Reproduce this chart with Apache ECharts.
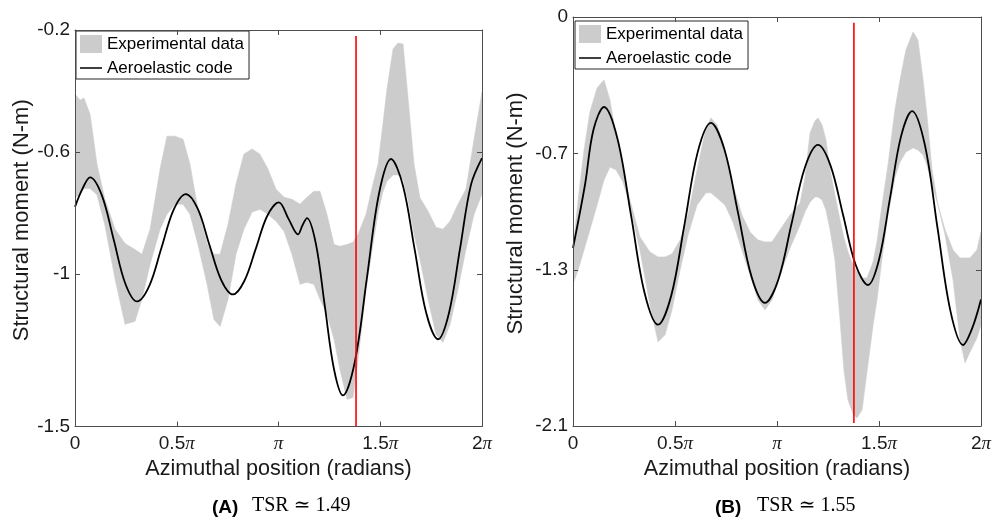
<!DOCTYPE html>
<html><head><meta charset="utf-8">
<script src="https://cdn.jsdelivr.net/npm/echarts@6/dist/echarts.min.js"></script>
<style>html,body{margin:0;padding:0;background:#fff}#c{width:1004px;height:518px}</style>
</head><body><div id="c"></div>
<script>
// ---------- tick values / labels ----------
const xTickValues = [0, 0.5, 1, 1.5, 2];
const xTickLabels = ['0', '0.5π', 'π', '1.5π', '2π'];
const yTicksA = [-1.5, -1, -0.6, -0.2];
const yTicksB = [-2.1, -1.3, -0.7, 0];
const xTitle = 'Azimuthal position (radians)';
const yTitle = 'Structural moment (N-m)';
const legendNames = ['Experimental data', 'Aeroelastic code'];
const panelLetters = ['(A)', '(B)'];
const panelCaptions = ['TSR ≃ 1.49', 'TSR ≃ 1.55'];

// ---------- panel A: experimental band (azimuth in units of π) ----------
const bandAzimuthA = [0, 0.025, 0.044, 0.074, 0.108, 0.147, 0.197, 0.246, 0.295, 0.329,
  0.369, 0.418, 0.452, 0.491, 0.531, 0.565, 0.604, 0.649, 0.683, 0.713,
  0.752, 0.791, 0.83, 0.87, 0.909, 0.948, 0.988, 1.027, 1.066, 1.106,
  1.14, 1.174, 1.204, 1.238, 1.273, 1.302, 1.337, 1.366, 1.391, 1.43,
  1.464, 1.489, 1.513, 1.533, 1.563, 1.587, 1.612, 1.636, 1.666, 1.695,
  1.735, 1.774, 1.808, 1.843, 1.882, 1.921, 1.961, 2.0];
const bandUpperA = [-0.41, -0.43, -0.423, -0.476, -0.64, -0.755, -0.853, -0.90, -0.92, -0.935,
  -0.853, -0.656, -0.548, -0.548, -0.558, -0.64, -0.788, -0.90, -0.935, -0.935,
  -0.837, -0.706, -0.607, -0.59, -0.607, -0.656, -0.722, -0.748, -0.755, -0.771,
  -0.748, -0.729, -0.729, -0.804, -0.903, -0.909, -0.903, -0.896, -0.87, -0.804,
  -0.706, -0.64, -0.509, -0.394, -0.262, -0.243, -0.246, -0.42, -0.64, -0.75,
  -0.794, -0.847, -0.853, -0.827, -0.771, -0.722, -0.558, -0.404];
const bandLowerA = [-0.75, -0.74, -0.72, -0.72, -0.74, -0.84, -1.017, -1.165, -1.155, -1.083,
  -0.968, -0.853, -0.804, -0.771, -0.771, -0.804, -0.903, -1.034, -1.149, -1.172,
  -1.083, -0.935, -0.853, -0.797, -0.788, -0.804, -0.827, -0.86, -0.935, -1.034,
  -1.027, -1.034, -1.083, -1.132, -1.214, -1.313, -1.411, -1.405, -1.28, -1.05,
  -0.903, -0.80, -0.73, -0.696, -0.675, -0.675, -0.69, -0.755, -0.87, -0.952,
  -1.083, -1.198, -1.224, -1.165, -1.05, -0.919, -0.804, -0.738];

// ---------- panel A: aeroelastic code ----------
const codeAzimuthA = [0, 0.037, 0.074, 0.132, 0.19, 0.247, 0.305, 0.365, 0.425, 0.485,
  0.545, 0.603, 0.66, 0.718, 0.776, 0.832, 0.889, 0.945, 1.002, 1.05,
  1.096, 1.118, 1.14, 1.184, 1.228, 1.273, 1.317, 1.376, 1.435, 1.494,
  1.553, 1.611, 1.669, 1.726, 1.784, 1.838, 1.892, 1.946, 2.0];
const codeMomentA = [-0.78, -0.72, -0.683, -0.742, -0.887, -1.031, -1.09, -1.039, -0.914, -0.789,
  -0.738, -0.786, -0.903, -1.019, -1.067, -1.023, -0.916, -0.809, -0.765, -0.82,
  -0.87, -0.84, -0.817, -0.902, -1.107, -1.313, -1.398, -1.285, -1.01, -0.736,
  -0.623, -0.709, -0.919, -1.128, -1.214, -1.127, -0.917, -0.707, -0.62];

// ---------- panel B: experimental band ----------
const bandAzimuthB = [0, 0.025, 0.054, 0.083, 0.118, 0.152, 0.181, 0.211, 0.245, 0.279,
  0.328, 0.377, 0.417, 0.451, 0.485, 0.525, 0.564, 0.608, 0.652, 0.676,
  0.706, 0.745, 0.784, 0.828, 0.868, 0.907, 0.941, 0.975, 1.015, 1.064,
  1.113, 1.137, 1.162, 1.186, 1.201, 1.221, 1.240, 1.260, 1.284, 1.309,
  1.328, 1.348, 1.373, 1.392, 1.417, 1.441, 1.471, 1.490, 1.515, 1.544,
  1.578, 1.603, 1.632, 1.667, 1.691, 1.716, 1.735, 1.760, 1.789, 1.824,
  1.863, 1.897, 1.922, 1.946, 1.980, 2.0];
const bandUpperB = [-1.191, -0.939, -0.683, -0.488, -0.364, -0.323, -0.426, -0.606, -0.785, -0.939,
  -1.129, -1.206, -1.232, -1.232, -1.217, -1.145, -1.016, -0.785, -0.570, -0.518,
  -0.554, -0.683, -0.862, -1.016, -1.104, -1.145, -1.155, -1.155, -1.093, -1.016,
  -0.955, -0.826, -0.595, -0.534, -0.518, -0.554, -0.631, -0.785, -0.914, -1.042,
  -1.134, -1.206, -1.273, -1.309, -1.340, -1.340, -1.258, -1.155, -0.965, -0.760,
  -0.477, -0.323, -0.169, -0.077, -0.118, -0.323, -0.503, -0.785, -0.965, -1.093,
  -1.196, -1.237, -1.237, -1.237, -1.196, -1.104];
const bandLowerB = [-1.371, -1.299, -1.196, -1.093, -0.965, -0.837, -0.770, -0.785, -0.847, -0.965,
  -1.196, -1.478, -1.668, -1.632, -1.504, -1.299, -1.119, -0.965, -0.903, -0.903,
  -0.929, -0.965, -1.052, -1.196, -1.324, -1.453, -1.504, -1.453, -1.324, -1.186,
  -1.068, -1.001, -0.950, -0.924, -0.924, -0.939, -0.991, -1.093, -1.247, -1.555,
  -1.812, -1.966, -2.038, -2.059, -2.017, -1.822, -1.581, -1.453, -1.237, -1.016,
  -0.826, -0.744, -0.693, -0.672, -0.683, -0.708, -0.760, -0.862, -0.965, -1.119,
  -1.350, -1.658, -1.776, -1.720, -1.648, -1.581];

// ---------- panel B: aeroelastic code ----------
const codeAzimuthB = [0, 0.059, 0.1, 0.152, 0.218, 0.285, 0.351, 0.417, 0.482, 0.547,
  0.611, 0.676, 0.742, 0.809, 0.875, 0.941, 1.006, 1.071, 1.136, 1.201,
  1.262, 1.324, 1.385, 1.446, 1.5, 1.554, 1.608, 1.662, 1.725, 1.787,
  1.85, 1.912, 1.956, 2.0];
const codeMomentB = [-1.186, -0.86, -0.58, -0.462, -0.625, -1.021, -1.417, -1.58, -1.429, -1.062,
  -0.695, -0.544, -0.679, -1.006, -1.333, -1.468, -1.35, -1.063, -0.775, -0.657,
  -0.762, -1.017, -1.271, -1.376, -1.246, -0.93, -0.613, -0.483, -0.658, -1.084,
  -1.509, -1.684, -1.6, -1.45];

// ---------- red marker lines ----------
const redLineAzimuth = [1.381, 1.377];
const redLineTop = [-0.22, -0.03];
const redLineBottom = [-1.5, -2.085];

// ---------- styling ----------
const FONT = 'Liberation Sans, Arial, Helvetica, sans-serif';
const AXIS = '#4d4d4d';
const TXT = '#1a1a1a';
const GRAY = '#cccccc';

const pairs = (xs, ys) => xs.map((x, i) => [x, ys[i]]);

function xAxesFor(g, nameGap) {
  const common = {
    gridIndex: g, type: 'value', min: 0, max: 2, interval: 0.5, z: 10,
    axisLine: { show: true, onZero: false, lineStyle: { color: AXIS, width: 1 } },
    axisTick: { show: true, inside: true, length: 5, lineStyle: { color: AXIS, width: 1 } },
    splitLine: { show: false }
  };
  return [
    Object.assign({}, common, {
      position: 'bottom',
      axisLabel: {
        show: true, margin: 8, fontSize: 19, color: TXT, fontFamily: FONT,
        showMinLabel: true, showMaxLabel: true,
        formatter: v => {
          const i = xTickValues.findIndex(t => Math.abs(t - v) < 1e-9);
          return i < 0 ? '' : xTickLabels[i].replace('π', '{p|π}');
        },
        rich: { p: { fontFamily: 'Liberation Serif, DejaVu Serif, serif', fontStyle: 'italic', fontSize: 19, color: TXT } }
      },
      name: xTitle, nameLocation: 'middle', nameGap: nameGap,
      nameTextStyle: { fontSize: 21.6, color: TXT, fontFamily: FONT }
    }),
    Object.assign({}, common, { position: 'top', axisLabel: { show: false } })
  ];
}

function yAxesFor(g, ticks, nameGap) {
  const common = {
    gridIndex: g, type: 'value', min: ticks[0], max: ticks[ticks.length - 1], z: 10,
    axisLine: { show: true, onZero: false, lineStyle: { color: AXIS, width: 1 } },
    axisTick: { show: true, inside: true, length: 5, customValues: ticks, lineStyle: { color: AXIS, width: 1 } },
    splitLine: { show: false }
  };
  return [
    Object.assign({}, common, {
      position: 'left',
      axisLabel: {
        show: true, margin: 5, fontSize: 19, color: TXT, fontFamily: FONT,
        customValues: ticks, showMinLabel: true, showMaxLabel: true,
        formatter: v => String(v)
      },
      name: yTitle, nameLocation: 'middle', nameGap: nameGap, nameRotate: 90,
      nameTextStyle: { fontSize: 22, color: TXT, fontFamily: FONT, padding: [0, 0, 0, 16] }
    }),
    Object.assign({}, common, { position: 'right', axisLabel: { show: false } })
  ];
}

function bandRenderer(bAz, bUp, bLo) {
  return function (params, api) {
    if (params.dataIndexInside !== 0) return null;
    const pts = [];
    for (let i = 0; i < bAz.length; i++) pts.push(api.coord([bAz[i], bUp[i]]));
    for (let i = bAz.length - 1; i >= 0; i--) pts.push(api.coord([bAz[i], bLo[i]]));
    return { type: 'polygon', shape: { points: pts }, style: { fill: GRAY, stroke: GRAY, lineWidth: 0.6 } };
  };
}

function panelSeries(xi, yi, bAz, bUp, bLo, cAz, cM, p) {
  return [
    {
      type: 'custom', name: legendNames[0], xAxisIndex: xi, yAxisIndex: yi,
      data: bAz.map((x, i) => [x, bUp[i], bLo[i]]),
      encode: { x: 0, y: [1, 2] },
      renderItem: bandRenderer(bAz, bUp, bLo),
      itemStyle: { color: GRAY }, silent: true, clip: true, z: 1
    },
    {
      type: 'line', name: legendNames[1], xAxisIndex: xi, yAxisIndex: yi,
      data: pairs(cAz, cM), symbol: 'none', smooth: 0.35, silent: true,
      lineStyle: { color: '#000', width: 1.8 }, itemStyle: { color: '#000' }, z: 3,
      emphasis: { disabled: true }
    },
    {
      type: 'line', xAxisIndex: xi, yAxisIndex: yi,
      data: [[redLineAzimuth[p], redLineTop[p]], [redLineAzimuth[p], redLineBottom[p]]],
      symbol: 'none', silent: true,
      lineStyle: { color: '#ff0000', width: 1.6 }, itemStyle: { color: '#ff0000' }, z: 4,
      emphasis: { disabled: true }
    }
  ];
}

function legendFor(left, top) {
  return {
    orient: 'vertical', left: left, top: top, padding: [4, 5, 2, 4], itemGap: 6,
    itemWidth: 22, itemHeight: 18, borderColor: '#262626', borderWidth: 1, borderRadius: 0,
    backgroundColor: '#ffffff', selectedMode: false, itemStyle: { borderWidth: 0 },
    textStyle: { fontSize: 17, color: '#000', fontFamily: FONT },
    data: [
      { name: legendNames[0], icon: 'rect', itemStyle: { color: GRAY } },
      { name: legendNames[1], icon: 'path://M0,0L0,18M0,8.2L22,8.2L22,9.8L0,9.8ZM22,0L22,18', itemStyle: { color: '#000' } }
    ]
  };
}

const option = {
  animation: false,
  backgroundColor: '#ffffff',
  textStyle: { fontFamily: FONT },
  grid: [
    { left: 75, top: 30, width: 407, height: 396.5 },
    { left: 573, top: 17, width: 408, height: 409 }
  ],
  xAxis: [...xAxesFor(0, 31), ...xAxesFor(1, 31)],
  yAxis: [...yAxesFor(0, yTicksA, 41), ...yAxesFor(1, yTicksB, 46)],
  legend: [legendFor(76, 31), legendFor(575, 21)],
  series: [
    ...panelSeries(0, 0, bandAzimuthA, bandUpperA, bandLowerA, codeAzimuthA, codeMomentA, 0),
    ...panelSeries(2, 2, bandAzimuthB, bandUpperB, bandLowerB, codeAzimuthB, codeMomentB, 1)
  ],
  graphic: [
    { type: 'text', left: 212, top: 498, style: { text: panelLetters[0], fontSize: 19, fontWeight: 'bold', fontFamily: FONT, fill: '#000' } },
    { type: 'text', left: 252, top: 496, style: { text: panelCaptions[0], fontSize: 20, fontFamily: 'Liberation Serif, DejaVu Serif, serif', fill: '#000' } },
    { type: 'text', left: 715, top: 498, style: { text: panelLetters[1], fontSize: 19, fontWeight: 'bold', fontFamily: FONT, fill: '#000' } },
    { type: 'text', left: 757, top: 496, style: { text: panelCaptions[1], fontSize: 20, fontFamily: 'Liberation Serif, DejaVu Serif, serif', fill: '#000' } }
  ]
};

const chart = echarts.init(document.getElementById('c'), null, { renderer: 'canvas' });
chart.setOption(option);
</script></body></html>
